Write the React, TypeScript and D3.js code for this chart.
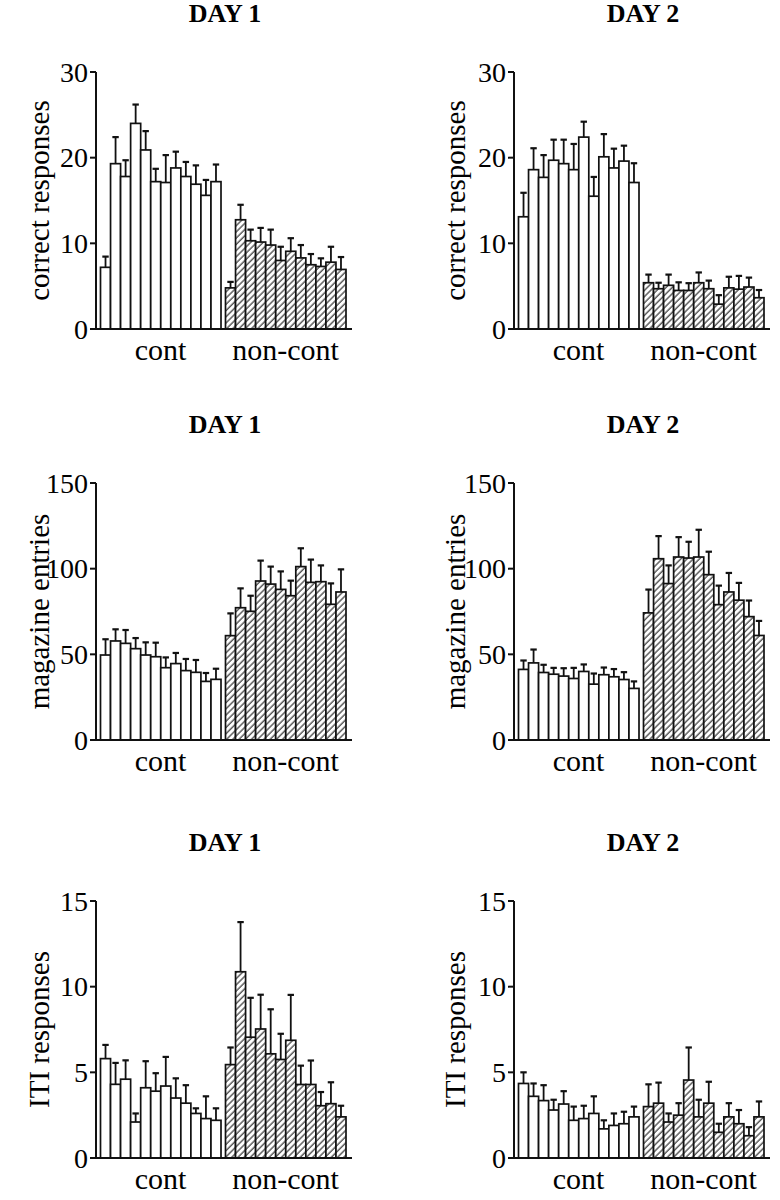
import React from "react";
import * as d3 from "d3";

// ---------- DATA ----------
const groupLabels = ["cont", "non-cont"];
const dayTitles = ["DAY 1", "DAY 2"];
const yLabels = ["correct responses", "magazine entries", "ITI responses"];
const yMaxes = [30, 150, 15];
const yTicks = [
  [0, 10, 20, 30],
  [0, 50, 100, 150],
  [0, 5, 10, 15],
];

// correct responses
const day1CorrectCont = [7.2, 19.3, 17.8, 24.0, 20.9, 17.2, 17.1, 18.8, 17.8, 16.9, 15.6, 17.2];
const day1CorrectContSem = [1.25, 3.1, 1.9, 2.2, 2.2, 1.5, 3.2, 1.9, 1.7, 2.2, 1.8, 2.0];
const day1CorrectNon = [4.8, 12.75, 10.3, 10.15, 9.8, 8.0, 9.07, 8.3, 7.5, 7.3, 7.8, 6.95];
const day1CorrectNonSem = [0.7, 1.75, 1.3, 1.65, 1.8, 1.6, 1.53, 1.5, 1.25, 0.95, 1.8, 1.45];
const day2CorrectCont = [13.1, 18.6, 17.7, 19.7, 19.3, 18.6, 22.4, 15.5, 20.1, 18.8, 19.6, 17.1];
const day2CorrectContSem = [2.8, 2.5, 2.6, 2.4, 2.8, 3.0, 1.8, 2.25, 2.65, 2.25, 1.8, 2.25];
const day2CorrectNon = [5.4, 4.7, 5.1, 4.5, 4.5, 5.4, 4.7, 2.9, 4.8, 4.65, 4.9, 3.65];
const day2CorrectNonSem = [0.95, 0.7, 1.25, 0.95, 0.85, 1.2, 0.95, 1.05, 1.3, 1.55, 1.1, 0.9];

// magazine entries
const day1MagCont = [49.6, 57.8, 56.4, 53.3, 49.6, 48.6, 42.2, 44.6, 40.5, 39.5, 34.2, 35.4];
const day1MagContSem = [9.2, 6.8, 7.8, 6.2, 7.4, 8.2, 6.0, 6.2, 6.8, 7.2, 4.9, 6.2];
const day1MagNon = [60.9, 77.2, 75.1, 92.8, 91.0, 87.9, 84.2, 101.2, 92.0, 92.4, 79.2, 86.4];
const day1MagNonSem = [13.0, 11.3, 9.1, 11.9, 10.2, 10.5, 8.8, 10.7, 13.3, 9.5, 12.2, 13.2];
const day2MagCont = [41.2, 45.0, 39.4, 38.4, 37.3, 35.9, 40.0, 32.6, 38.1, 36.9, 35.3, 30.1];
const day2MagContSem = [5.2, 7.8, 4.5, 3.7, 4.6, 6.2, 4.1, 6.2, 4.2, 4.5, 4.3, 4.1];
const day2MagNon = [74.2, 105.8, 91.3, 106.8, 106.2, 106.8, 96.5, 79.0, 86.4, 81.6, 72.0, 61.0];
const day2MagNonSem = [13.6, 13.2, 10.6, 11.6, 9.5, 15.9, 13.4, 11.1, 11.1, 10.1, 9.4, 8.5];

// ITI responses
const day1ItiCont = [5.8, 4.3, 4.6, 2.1, 4.1, 3.9, 4.2, 3.5, 3.2, 2.6, 2.3, 2.2];
const day1ItiContSem = [0.8, 1.25, 1.1, 0.5, 1.55, 1.05, 1.7, 1.15, 1.05, 0.3, 1.3, 0.7];
const day1ItiNon = [5.45, 10.87, 7.05, 7.53, 6.08, 5.75, 6.87, 4.29, 4.29, 3.05, 3.17, 2.4];
const day1ItiNonSem = [1.0, 2.9, 2.3, 2.0, 2.6, 1.5, 2.65, 1.1, 1.4, 0.8, 1.25, 0.65];
const day2ItiCont = [4.35, 3.6, 3.35, 2.8, 3.15, 2.2, 2.3, 2.6, 1.7, 1.9, 2.0, 2.4];
const day2ItiContSem = [0.65, 0.75, 0.9, 0.6, 0.75, 0.8, 0.75, 1.0, 0.5, 0.7, 0.7, 0.6];
const day2ItiNon = [3.0, 3.2, 2.1, 2.5, 4.55, 2.4, 3.2, 1.5, 2.4, 2.0, 1.3, 2.4];
const day2ItiNonSem = [1.3, 1.2, 0.5, 0.7, 1.9, 1.0, 1.25, 0.5, 0.8, 0.8, 0.5, 0.9];

const panelsData = [
  [
    [day1CorrectCont, day1CorrectContSem, day1CorrectNon, day1CorrectNonSem],
    [day2CorrectCont, day2CorrectContSem, day2CorrectNon, day2CorrectNonSem],
  ],
  [
    [day1MagCont, day1MagContSem, day1MagNon, day1MagNonSem],
    [day2MagCont, day2MagContSem, day2MagNon, day2MagNonSem],
  ],
  [
    [day1ItiCont, day1ItiContSem, day1ItiNon, day1ItiNonSem],
    [day2ItiCont, day2ItiContSem, day2ItiNon, day2ItiNonSem],
  ],
];

// ---------- LAYOUT ----------
const W = 780;
const H = 1200;
const colAxisX = [96, 514];
const rowTop = [72, 483, 901];
const plotH = 257;
const FONT = "'Liberation Serif', 'Times New Roman', serif";

function Panel({ row, col }: { row: number; col: number }) {
  const [cont, contSem, non, nonSem] = panelsData[row][col];
  const ax = colAxisX[col];
  const top = rowTop[row];
  const bottom = top + plotH;
  const y = d3.scaleLinear().domain([0, yMaxes[row]]).range([bottom, top]);
  const idx = d3.range(12).map(String);
  const xc = d3.scaleBand().domain(idx).range([ax + 4.5, ax + 125]).padding(0);
  const xn = d3.scaleBand().domain(idx).range([ax + 129.5, ax + 250]).padding(0);
  const baseEnd = ax + 256;
  const bw = xc.bandwidth();

  const bars = (vals: number[], sems: number[], xs: d3.ScaleBand<string>, hatched: boolean) =>
    vals.map((v, i) => {
      const x0 = xs(String(i)) as number;
      const cx = x0 + bw / 2;
      const yt = y(v);
      const ye = y(v + sems[i]);
      return (
        <g key={(hatched ? "n" : "c") + i}>
          <line x1={cx} x2={cx} y1={yt} y2={ye} stroke="#111" strokeWidth={1.8} />
          <line x1={cx - 3.2} x2={cx + 3.2} y1={ye} y2={ye} stroke="#111" strokeWidth={2.2} />
          <rect
            x={x0}
            y={yt}
            width={bw}
            height={bottom - yt}
            fill={hatched ? "url(#hatch)" : "#fff"}
            stroke="#111"
            strokeWidth={1.7}
          />
        </g>
      );
    });

  const midY = (top + bottom) / 2;
  const labelX = col === 0 ? 40 : ax - 58;
  return (
    <g>
      <text
        x={ax + 129}
        y={top - 50}
        textAnchor="middle"
        fontFamily={FONT}
        fontWeight="bold"
        fontSize={26}
      >
        {dayTitles[col]}
      </text>
      <text
        transform={`translate(${labelX + 9},${midY}) rotate(-90)`}
        textAnchor="middle"
        fontFamily={FONT}
        fontSize={29}
      >
        {yLabels[row]}
      </text>
      {bars(cont, contSem, xc, false)}
      {bars(non, nonSem, xn, true)}
      <line x1={ax} x2={ax} y1={top} y2={bottom} stroke="#111" strokeWidth={2} />
      <line x1={ax} x2={baseEnd} y1={bottom} y2={bottom} stroke="#111" strokeWidth={2} />
      {yTicks[row].map((t) => (
        <g key={t}>
          <line x1={ax - 6} x2={ax} y1={y(t)} y2={y(t)} stroke="#111" strokeWidth={2} />
          <text
            x={ax - 8}
            y={y(t)}
            dy="0.34em"
            textAnchor="end"
            fontFamily={FONT}
            fontSize={28}
          >
            {t}
          </text>
        </g>
      ))}
      <text
        x={ax + 4.5 + 60}
        y={bottom + 31}
        textAnchor="middle"
        fontFamily={FONT}
        fontSize={30}
      >
        {groupLabels[0]}
      </text>
      <text
        x={ax + 129.5 + 60}
        y={bottom + 31}
        textAnchor="middle"
        fontFamily={FONT}
        fontSize={30}
      >
        {groupLabels[1]}
      </text>
    </g>
  );
}

export default function App() {
  return (
    <svg
      width={W}
      height={H}
      viewBox={`0 0 ${W} ${H}`}
      style={{ position: "absolute", left: 0, top: 0, background: "#fff" }}
    >
      <defs>
        <pattern
          id="hatch"
          patternUnits="userSpaceOnUse"
          width={4.4}
          height={4.4}
          patternTransform="rotate(45)"
        >
          <rect width={4.4} height={4.4} fill="#fff" />
          <line x1={1} x2={1} y1={0} y2={4.4} stroke="#222" strokeWidth={1.1} />
        </pattern>
      </defs>
      <rect width={W} height={H} fill="#fff" />
      {[0, 1, 2].map((r) => [0, 1].map((c) => <Panel key={`${r}-${c}`} row={r} col={c} />))}
    </svg>
  );
}
